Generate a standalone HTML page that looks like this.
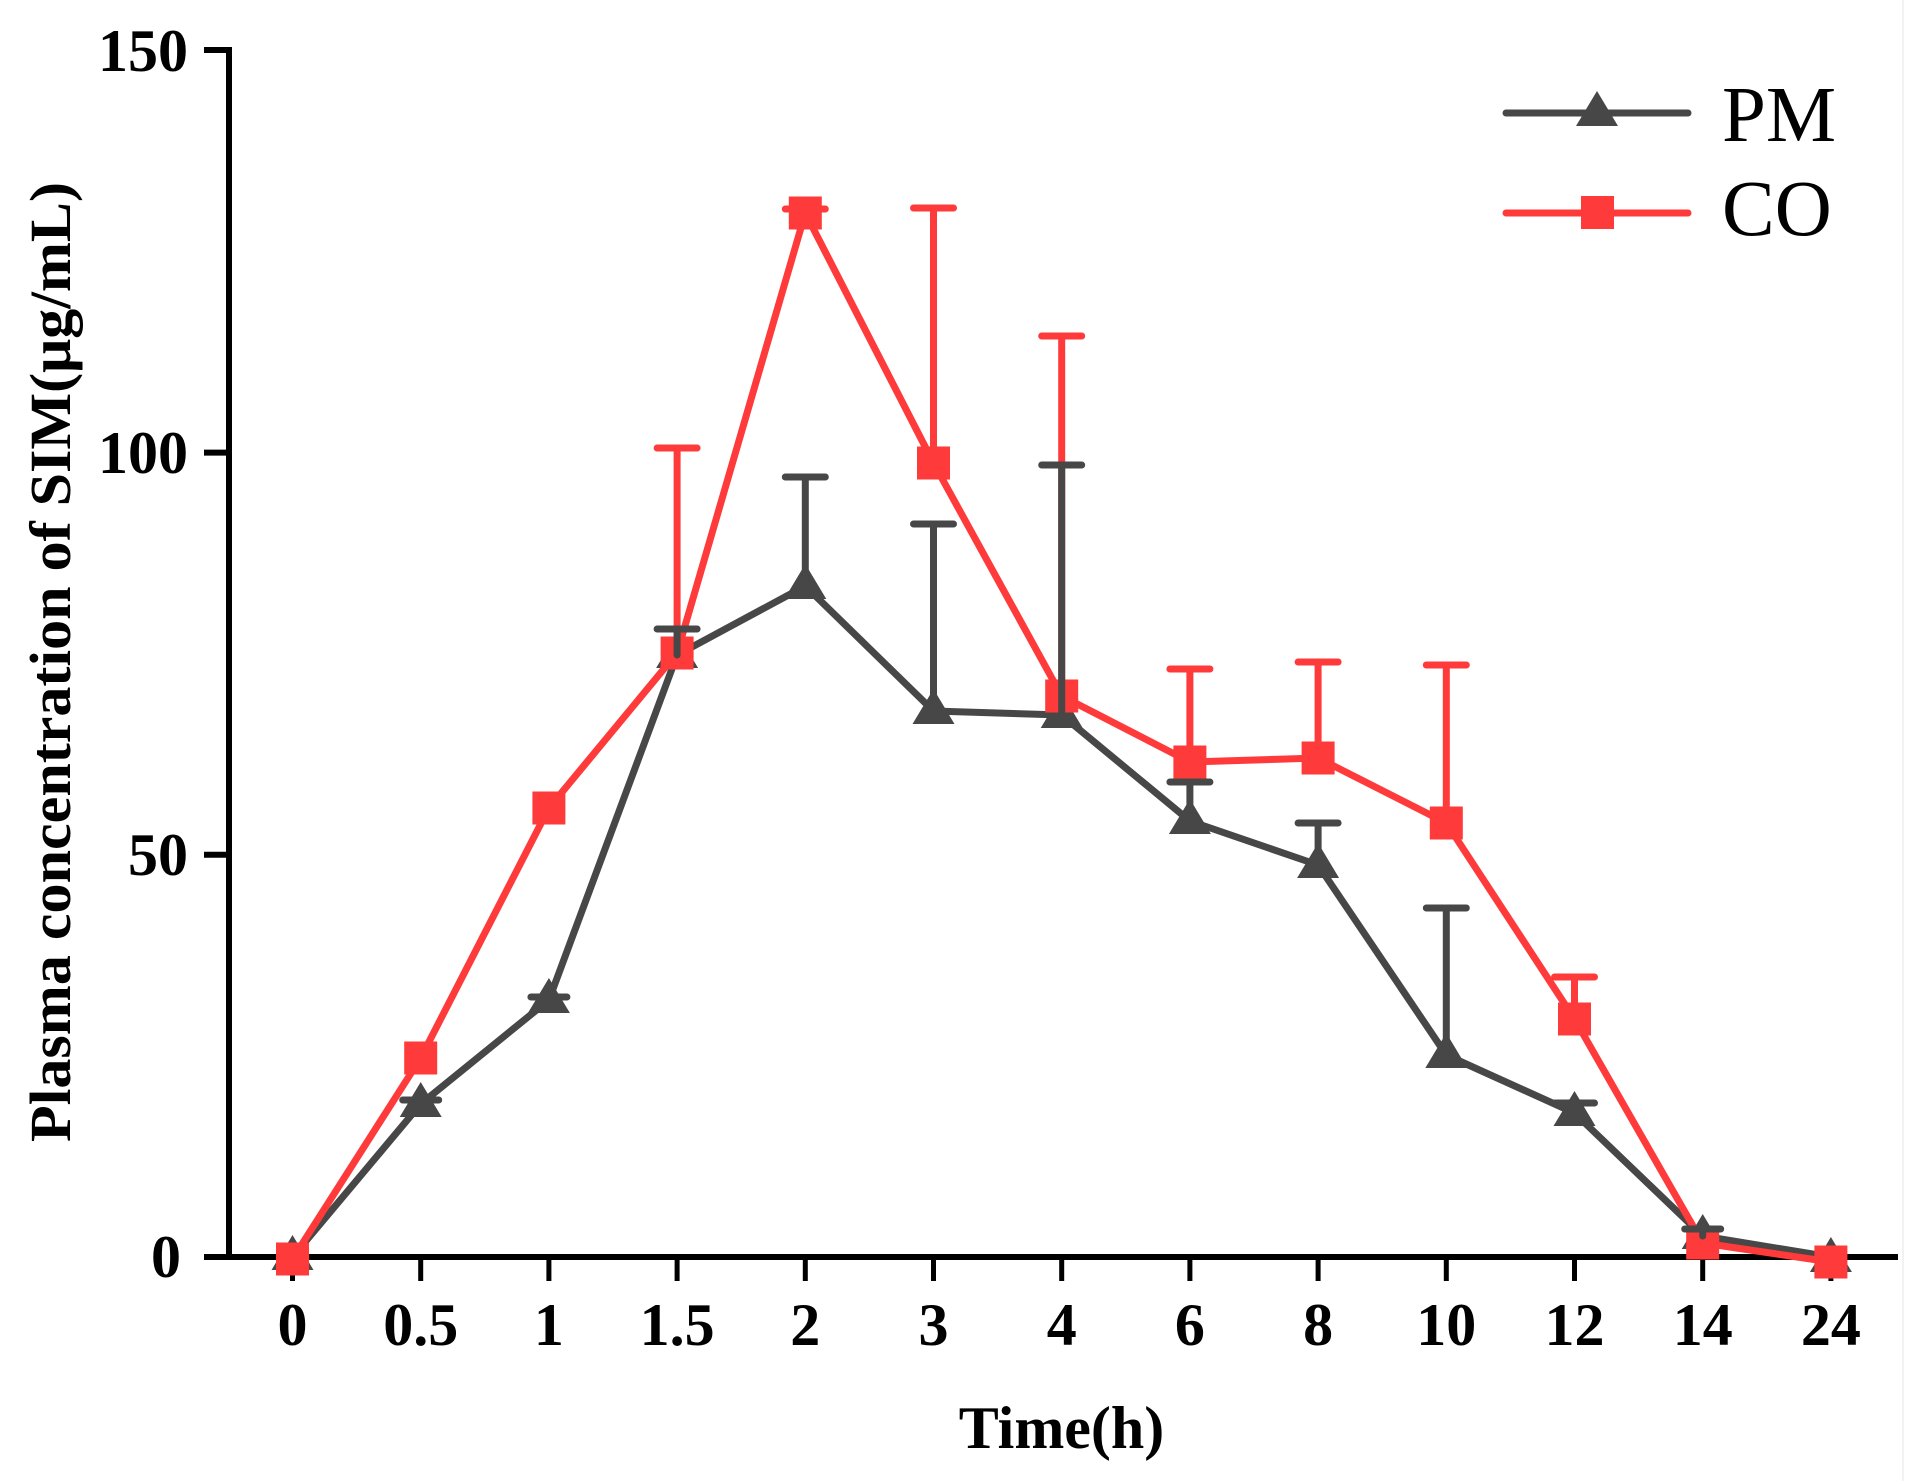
<!DOCTYPE html>
<html>
<head>
<meta charset="utf-8">
<style>
html,body{margin:0;padding:0;background:#fff;}
svg{display:block;}
</style>
</head>
<body>
<svg width="1929" height="1481" viewBox="0 0 1929 1481" xmlns="http://www.w3.org/2000/svg">
<rect x="0" y="0" width="1929" height="1481" fill="#ffffff"/>
<line x1="1903" y1="0" x2="1903" y2="1481" stroke="#f2f2f2" stroke-width="2"/>

<!-- Axes -->
<g stroke="#000" stroke-width="6" fill="none">
  <line x1="229" y1="47" x2="229" y2="1260"/>
  <line x1="204" y1="1257" x2="1898" y2="1257"/>
  <line x1="204" y1="50" x2="229" y2="50"/>
  <line x1="204" y1="452.6" x2="229" y2="452.6"/>
  <line x1="204" y1="854.8" x2="229" y2="854.8"/>
</g>
<g stroke="#000" stroke-width="5">
  <line x1="292.5" y1="1257" x2="292.5" y2="1281"/>
  <line x1="420.7" y1="1257" x2="420.7" y2="1281"/>
  <line x1="548.9" y1="1257" x2="548.9" y2="1281"/>
  <line x1="677.1" y1="1257" x2="677.1" y2="1281"/>
  <line x1="805.3" y1="1257" x2="805.3" y2="1281"/>
  <line x1="933.5" y1="1257" x2="933.5" y2="1281"/>
  <line x1="1061.7" y1="1257" x2="1061.7" y2="1281"/>
  <line x1="1189.9" y1="1257" x2="1189.9" y2="1281"/>
  <line x1="1318.1" y1="1257" x2="1318.1" y2="1281"/>
  <line x1="1446.3" y1="1257" x2="1446.3" y2="1281"/>
  <line x1="1574.5" y1="1257" x2="1574.5" y2="1281"/>
  <line x1="1702.7" y1="1257" x2="1702.7" y2="1281"/>
  <line x1="1830.9" y1="1257" x2="1830.9" y2="1281"/>
</g>

<!-- Y tick labels -->
<g font-family="'Liberation Serif', serif" font-weight="bold" font-size="60" fill="#000" text-anchor="end">
  <text x="188" y="71">150</text>
  <text x="188" y="473">100</text>
  <text x="188" y="875">50</text>
  <text x="181" y="1277">0</text>
</g>
<!-- X tick labels -->
<g font-family="'Liberation Serif', serif" font-weight="bold" font-size="60" fill="#000" text-anchor="middle">
  <text x="292.5" y="1345">0</text>
  <text x="420.7" y="1345">0.5</text>
  <text x="548.9" y="1345">1</text>
  <text x="677.1" y="1345">1.5</text>
  <text x="805.3" y="1345">2</text>
  <text x="933.5" y="1345">3</text>
  <text x="1061.7" y="1345">4</text>
  <text x="1189.9" y="1345">6</text>
  <text x="1318.1" y="1345">8</text>
  <text x="1446.3" y="1345">10</text>
  <text x="1574.5" y="1345">12</text>
  <text x="1702.7" y="1345">14</text>
  <text x="1830.9" y="1345">24</text>
</g>

<!-- Axis titles -->
<text x="1061.5" y="1448" font-family="'Liberation Serif', serif" font-weight="bold" font-size="60" text-anchor="middle" fill="#000">Time(h)</text>
<text transform="translate(70,662) rotate(-90)" x="0" y="0" font-family="'Liberation Serif', serif" font-weight="bold" font-size="58" text-anchor="middle" fill="#000" textLength="960" lengthAdjust="spacingAndGlyphs">Plasma concentration of SIM(μg/mL)</text>

<!-- PM series -->
<polyline fill="none" stroke="#474747" stroke-width="7" stroke-linejoin="round"
  points="292.5,1257 420.7,1104 548.9,1000 677.1,655 805.3,586 933.5,711 1061.7,715 1189.9,821 1318.1,865 1446.3,1055 1574.5,1113 1702.7,1236 1830.9,1257"/>
<g fill="#474747">
  <polygon points="292.5,1235 271.5,1270 313.5,1270"/>
  <polygon points="420.7,1082 399.7,1117 441.7,1117"/>
  <polygon points="548.9,978 527.9,1013 569.9,1013"/>
  <polygon points="677.1,633 656.1,668 698.1,668"/>
  <polygon points="805.3,564 784.3,599 826.3,599"/>
  <polygon points="933.5,689 912.5,724 954.5,724"/>
  <polygon points="1061.7,693 1040.7,728 1082.7,728"/>
  <polygon points="1189.9,799 1168.9,834 1210.9,834"/>
  <polygon points="1318.1,843 1297.1,878 1339.1,878"/>
  <polygon points="1446.3,1033 1425.3,1068 1467.3,1068"/>
  <polygon points="1574.5,1091 1553.5,1126 1595.5,1126"/>
  <polygon points="1702.7,1214 1681.7,1249 1723.7,1249"/>
  <polygon points="1830.9,1237 1809.9,1272 1851.9,1272"/>
</g>

<!-- CO series -->
<polyline fill="none" stroke="#ff3a3a" stroke-width="7" stroke-linejoin="round"
  points="292.5,1259 420.7,1058 548.9,808 677.1,653 805.3,213 933.5,463 1061.7,696 1189.9,762 1318.1,758 1446.3,823 1574.5,1019 1702.7,1243 1830.9,1262"/>
<g fill="#ff3a3a">
  <rect x="276" y="1242.5" width="33" height="33"/>
  <rect x="404.2" y="1041.5" width="33" height="33"/>
  <rect x="532.4" y="791.5" width="33" height="33"/>
  <rect x="660.6" y="636.5" width="33" height="33"/>
  <rect x="788.8" y="196.5" width="33" height="33"/>
  <rect x="917" y="446.5" width="33" height="33"/>
  <rect x="1045.2" y="679.5" width="33" height="33"/>
  <rect x="1173.4" y="745.5" width="33" height="33"/>
  <rect x="1301.6" y="741.5" width="33" height="33"/>
  <rect x="1429.8" y="806.5" width="33" height="33"/>
  <rect x="1558" y="1002.5" width="33" height="33"/>
  <rect x="1686.2" y="1226.5" width="33" height="33"/>
  <rect x="1814.4" y="1245.5" width="33" height="33"/>
</g>

<!-- CO error bars -->
<g stroke="#ff3a3a" stroke-width="7" stroke-linecap="round" fill="none">
  <line x1="677.1" y1="653" x2="677.1" y2="448"/><line x1="657.1" y1="448" x2="697.1" y2="448"/>
  <line x1="785.3" y1="209" x2="825.3" y2="209"/>
  <line x1="933.5" y1="463" x2="933.5" y2="208"/><line x1="913.5" y1="208" x2="953.5" y2="208"/>
  <line x1="1061.7" y1="696" x2="1061.7" y2="336"/><line x1="1041.7" y1="336" x2="1081.7" y2="336"/>
  <line x1="1189.9" y1="762" x2="1189.9" y2="669"/><line x1="1169.9" y1="669" x2="1209.9" y2="669"/>
  <line x1="1318.1" y1="758" x2="1318.1" y2="662"/><line x1="1298.1" y1="662" x2="1338.1" y2="662"/>
  <line x1="1446.3" y1="823" x2="1446.3" y2="665"/><line x1="1426.3" y1="665" x2="1466.3" y2="665"/>
  <line x1="1574.5" y1="1019" x2="1574.5" y2="977"/><line x1="1554.5" y1="977" x2="1594.5" y2="977"/>
</g>

<!-- PM error bars -->
<g stroke="#474747" stroke-width="7" stroke-linecap="round" fill="none">
  <line x1="402.7" y1="1100" x2="438.7" y2="1100"/>
  <line x1="530.9" y1="997" x2="566.9" y2="997"/>
  <line x1="677.1" y1="655" x2="677.1" y2="629"/><line x1="657.1" y1="629" x2="697.1" y2="629"/>
  <line x1="805.3" y1="586" x2="805.3" y2="477"/><line x1="785.3" y1="477" x2="825.3" y2="477"/>
  <line x1="933.5" y1="711" x2="933.5" y2="524"/><line x1="913.5" y1="524" x2="953.5" y2="524"/>
  <line x1="1061.7" y1="715" x2="1061.7" y2="465"/><line x1="1041.7" y1="465" x2="1081.7" y2="465"/>
  <line x1="1189.9" y1="821" x2="1189.9" y2="782"/><line x1="1169.9" y1="782" x2="1209.9" y2="782"/>
  <line x1="1318.1" y1="865" x2="1318.1" y2="823"/><line x1="1298.1" y1="823" x2="1338.1" y2="823"/>
  <line x1="1446.3" y1="1055" x2="1446.3" y2="908"/><line x1="1426.3" y1="908" x2="1466.3" y2="908"/>
  <line x1="1574.5" y1="1113" x2="1574.5" y2="1103"/><line x1="1554.5" y1="1103" x2="1594.5" y2="1103"/>
  <line x1="1702.7" y1="1236" x2="1702.7" y2="1229"/><line x1="1684.7" y1="1229" x2="1720.7" y2="1229"/>
</g>

<!-- Legend -->
<line x1="1506" y1="113" x2="1688" y2="113" stroke="#474747" stroke-width="7" stroke-linecap="round"/>
<polygon points="1597,91 1576,126 1618,126" fill="#474747"/>
<line x1="1506" y1="213" x2="1688" y2="213" stroke="#ff3a3a" stroke-width="7" stroke-linecap="round"/>
<rect x="1581" y="196" width="33" height="33" fill="#ff3a3a"/>
<g font-family="'Liberation Serif', serif" font-size="79" fill="#000">
  <text x="1722" y="141">PM</text>
  <text x="1722" y="235">CO</text>
</g>
</svg>
</body>
</html>
